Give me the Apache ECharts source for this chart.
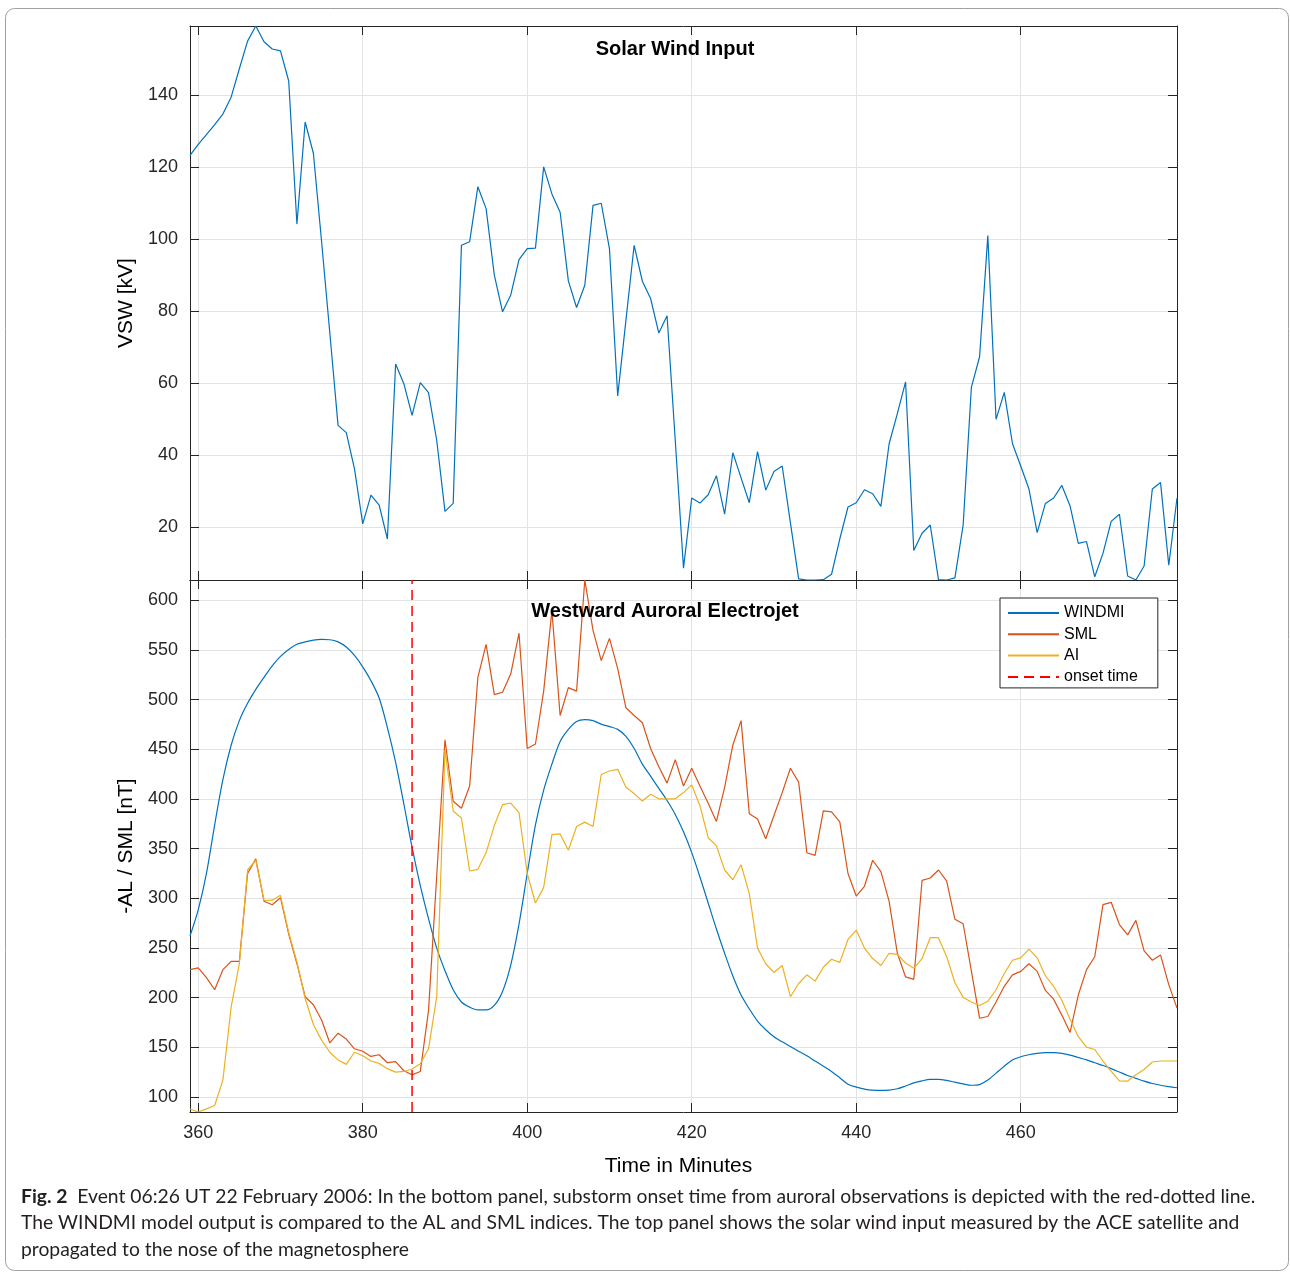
<!DOCTYPE html>
<html>
<head>
<meta charset="utf-8">
<title>Fig. 2 Solar wind input and westward auroral electrojet</title>
<script src="https://cdn.jsdelivr.net/npm/echarts@6/dist/echarts.min.js"></script>
<style>
    html, body { margin: 0; padding: 0; background: #fff; }
    #main { width: 1290px; height: 1272px; }
</style>
</head>
<body>
<div id="main"></div>
<script>
// first sample minute, one sample per minute after that
var startMinute = 359;
var onsetTime = 386;

var minuteTicks = [360, 380, 400, 420, 440, 460];
var vswTicks = [20, 40, 60, 80, 100, 120, 140];
var alTicks = [100, 150, 200, 250, 300, 350, 400, 450, 500, 550, 600];

// top panel, solar wind driver VSW [kV]
var vsw = [
    123.3, 126.4, 129.1, 131.9, 134.8, 139.5, 147.4, 155.1, 159.3, 154.9,
    152.9, 152.4, 144.0, 104.2, 132.6, 123.9, 99.3, 73.9, 48.2, 46.2,
    36.1, 20.8, 28.8, 26.0, 16.6, 65.3, 59.8, 51.0, 60.1, 57.3,
    44.0, 24.3, 26.5, 98.3, 99.3, 114.6, 108.5, 90.0, 79.8, 84.5,
    94.3, 97.4, 97.5, 120.1, 112.6, 107.5, 88.4, 81.0, 87.2, 109.4,
    110.0, 97.3, 56.4, 77.4, 98.3, 88.3, 83.5, 73.9, 78.7, 44.0,
    8.5, 28.0, 26.6, 28.9, 34.2, 23.5, 40.6, 33.6, 26.7, 40.9,
    30.2, 35.4, 36.9, 21.1, 5.5, 5.2, 5.2, 5.3, 6.8, 16.6,
    25.5, 26.7, 30.3, 29.2, 25.7, 43.1, 51.5, 60.3, 13.4, 18.2,
    20.5, 5.3, 5.2, 5.8, 20.5, 58.8, 67.3, 101.0, 49.9, 57.4,
    43.1, 36.9, 30.5, 18.4, 26.5, 28.0, 31.5, 25.8, 15.4, 15.9,
    6.1, 12.6, 21.5, 23.5, 6.3, 5.2, 9.1, 30.5, 32.3, 9.3,
    28.0
];

// bottom panel, -AL / SML [nT]
var windmi = [
    262.1, 288.3, 325.0, 374.0, 419.4, 454.0, 478.8, 496.2, 510.2, 522.4,
    534.0, 543.4, 550.4, 555.6, 558.0, 559.8, 560.5, 560.2, 558.0, 552.8,
    544.4, 532.9, 519.0, 501.5, 471.8, 436.8, 394.9, 351.2, 312.8, 279.6,
    249.9, 227.2, 208.0, 195.7, 190.5, 187.7, 187.7, 192.2, 206.2, 233.0,
    274.0, 325.0, 374.0, 408.9, 435.0, 457.8, 470.0, 478.0, 479.8, 478.8,
    475.3, 472.8, 470.0, 463.0, 450.8, 435.0, 422.9, 410.6, 398.4, 384.4,
    366.9, 346.0, 321.5, 295.3, 269.1, 244.7, 221.9, 202.7, 188.8, 176.5,
    167.8, 160.8, 155.6, 151.0, 146.1, 141.6, 136.3, 131.1, 125.8, 119.5,
    113.0, 110.1, 108.1, 107.0, 106.7, 107.0, 108.4, 111.2, 114.3, 116.4,
    117.8, 117.8, 116.8, 115.0, 113.3, 111.9, 112.6, 117.1, 124.1, 131.1,
    137.4, 140.6, 142.6, 144.0, 144.7, 144.7, 144.0, 142.3, 139.8, 137.4,
    134.6, 131.8, 128.7, 125.2, 121.7, 118.9, 116.1, 113.7, 111.9, 110.5,
    109.4
];

var sml = [
    228.2, 230.0, 220.2, 208.0, 228.2, 236.6, 236.6, 325.0, 339.7, 297.0,
    293.6, 300.6, 263.9, 234.2, 201.0, 192.9, 177.6, 154.5, 164.3, 158.4,
    148.6, 146.1, 140.9, 142.6, 134.6, 135.6, 126.5, 122.4, 125.8, 187.0,
    323.3, 459.5, 397.7, 390.7, 413.0, 522.4, 555.6, 505.0, 507.4, 525.9,
    566.8, 450.8, 455.3, 508.5, 589.5, 484.0, 512.0, 508.5, 620.3, 569.6,
    539.2, 561.6, 531.2, 491.7, 484.0, 476.7, 450.8, 432.3, 415.9, 439.6,
    413.0, 430.9, 413.0, 395.6, 377.4, 411.7, 454.3, 478.8, 385.1, 379.9,
    360.0, 383.4, 406.4, 430.9, 416.9, 345.9, 343.2, 387.9, 386.9, 377.0,
    325.0, 302.3, 312.1, 338.3, 326.8, 297.0, 244.7, 220.9, 218.5, 318.0,
    320.5, 328.5, 317.3, 278.9, 274.4, 226.8, 179.3, 181.1, 195.7, 211.5,
    223.0, 226.5, 234.2, 226.5, 207.3, 198.5, 182.5, 165.0, 202.7, 228.2,
    241.2, 293.6, 296.0, 273.6, 263.2, 277.8, 247.1, 237.7, 242.9, 213.2,
    189.5
];

var ai = [
    88.0, 85.0, 88.1, 91.6, 117.1, 190.5, 234.2, 328.5, 338.3, 297.8,
    298.1, 303.0, 265.6, 235.9, 199.2, 173.0, 157.3, 145.1, 137.4, 132.9,
    145.1, 141.6, 136.3, 133.9, 128.6, 125.1, 125.8, 128.3, 133.5, 148.6,
    201.0, 449.1, 387.9, 380.9, 327.5, 329.2, 346.0, 373.2, 394.2, 395.9,
    386.2, 325.0, 295.3, 311.0, 364.1, 364.8, 348.4, 372.2, 376.7, 372.2,
    424.6, 428.1, 429.8, 411.7, 405.4, 398.0, 404.7, 400.1, 400.1, 400.1,
    406.4, 414.1, 393.2, 361.0, 353.0, 328.5, 318.7, 333.8, 304.8, 249.9,
    234.2, 225.4, 232.4, 201.0, 214.3, 223.0, 216.7, 230.7, 238.7, 235.5,
    258.6, 268.1, 249.9, 239.4, 232.4, 244.7, 243.6, 234.9, 229.6, 239.4,
    260.4, 260.4, 241.2, 215.0, 200.3, 195.7, 192.2, 196.4, 208.0, 224.4,
    237.7, 240.1, 248.9, 240.1, 222.1, 211.5, 197.5, 178.3, 160.8, 150.3,
    147.9, 136.3, 125.8, 116.4, 116.1, 122.4, 127.7, 135.3, 136.3, 136.3,
    136.3
];

var timeRange = [359, 479];
var vswRange = [5.2, 159.3];
var alRange = [85, 620.3];

function pairs(values) {
    var out = [];
    for (var i = 0; i < values.length; i++) {
        out.push([startMinute + i, values[i]]);
    }
    return out;
}

var axisColor = '#262626';
var gridColor = '#e3e3e3';
var font = 'Liberation Sans, Arial, sans-serif';
var captionFont = '19.3px Lato, sans-serif';

function xAxis(gridIndex, position, labels, grid) {
    return {
        type: 'value',
        gridIndex: gridIndex,
        position: position,
        min: timeRange[0],
        max: timeRange[1],
        axisLine: {show: true, onZero: false, lineStyle: {color: axisColor, width: 1}},
        axisTick: {show: true, inside: true, length: 9, customValues: minuteTicks, lineStyle: {color: axisColor}},
        axisLabel: {show: labels, customValues: minuteTicks, margin: 12, color: axisColor, fontSize: 18, fontFamily: font},
        splitLine: {show: grid, lineStyle: {color: gridColor, width: 1}}
    };
}

function yAxis(gridIndex, position, range, ticks, labels, name) {
    return {
        type: 'value',
        gridIndex: gridIndex,
        position: position,
        min: range[0],
        max: range[1],
        name: name,
        nameLocation: 'middle',
        nameGap: 49,
        nameTextStyle: {color: '#000', fontSize: 21, fontFamily: font},
        axisLine: {show: true, onZero: false, lineStyle: {color: axisColor, width: 1}},
        axisTick: {show: true, inside: true, length: 9, customValues: ticks, lineStyle: {color: axisColor}},
        axisLabel: {show: labels, customValues: ticks, margin: 12, color: axisColor, fontSize: 18, fontFamily: font},
        splitLine: {show: labels, lineStyle: {color: gridColor, width: 1}}
    };
}

var chart = echarts.init(document.getElementById('main'));

var bottomX = xAxis(1, 'bottom', true, true);
bottomX.name = 'Time in Minutes';
bottomX.nameLocation = 'middle';
bottomX.nameGap = 44;
bottomX.nameTextStyle = {color: '#000', fontSize: 21, fontFamily: font, padding: [0, 10, 0, 0]};

var option = {
    animation: false,
    backgroundColor: '#fff',
    grid: [
        {left: 190, top: 26, width: 987, height: 554},
        {left: 190, top: 580, width: 987, height: 532}
    ],
    xAxis: [
        xAxis(0, 'bottom', false, true),
        xAxis(0, 'top', false, false),
        bottomX,
        xAxis(1, 'top', false, false)
    ],
    yAxis: [
        yAxis(0, 'left', vswRange, vswTicks, true, 'VSW [kV]'),
        yAxis(0, 'right', vswRange, vswTicks, false, ''),
        yAxis(1, 'left', alRange, alTicks, true, '-AL / SML [nT]'),
        yAxis(1, 'right', alRange, alTicks, false, '')
    ],
    legend: {
        data: ['WINDMI', 'SML', 'AI', 'onset time'],
        orient: 'vertical',
        left: 1000,
        top: 598,
        padding: [7, 20, 3, 7],
        itemWidth: 51,
        itemHeight: 14,
        itemGap: 5.3,
        backgroundColor: '#fff',
        borderColor: axisColor,
        borderWidth: 1,
        borderRadius: 0,
        // line only, no marker dot
        itemStyle: {opacity: 0},
        textStyle: {color: '#000', fontSize: 16, fontFamily: font}
    },
    graphic: [
        {
            type: 'rect',
            shape: {x: 5.5, y: 8.5, width: 1283, height: 1262, r: 9},
            style: {fill: 'none', stroke: '#a0a0a0', lineWidth: 1},
            silent: true
        },
        {
            type: 'text', x: 675, y: 49, z: 10,
            style: {text: 'Solar Wind Input', align: 'center', verticalAlign: 'middle',
                font: 'bold 20px Liberation Sans, Arial, sans-serif', fill: '#000'}
        },
        {
            type: 'text', x: 665, y: 611, z: 10,
            style: {text: 'Westward Auroral Electrojet', align: 'center', verticalAlign: 'middle',
                font: 'bold 20px Liberation Sans, Arial, sans-serif', fill: '#000'}
        },
        {
            type: 'text', x: 21, y: 1197,
            style: {
                text: '{b|Fig. 2}  Event 06:26 UT 22 February 2006: In the bottom panel, substorm onset time from auroral observations is depicted with the red-dotted line.',
                verticalAlign: 'middle',
                font: captionFont, fill: '#231f20',
                rich: {b: {font: 'bold 19.3px Lato, sans-serif', fill: '#231f20'}}
            }
        },
        {
            type: 'text', x: 21, y: 1223,
            style: {
                text: 'The WINDMI model output is compared to the AL and SML indices. The top panel shows the solar wind input measured by the ACE satellite and',
                verticalAlign: 'middle', font: captionFont, fill: '#231f20'
            }
        },
        {
            type: 'text', x: 21, y: 1250,
            style: {
                text: 'propagated to the nose of the magnetosphere',
                verticalAlign: 'middle', font: captionFont, fill: '#231f20'
            }
        }
    ],
    series: [
        {
            name: 'VSW', type: 'line', xAxisIndex: 0, yAxisIndex: 0,
            data: pairs(vsw), symbol: 'none', color: '#0072BD',
            lineStyle: {color: '#0072BD', width: 1.2}
        },
        {
            name: 'WINDMI', type: 'line', xAxisIndex: 2, yAxisIndex: 2,
            data: pairs(windmi), symbol: 'none', smooth: 0.3, color: '#0072BD',
            lineStyle: {color: '#0072BD', width: 1.2}
        },
        {
            name: 'SML', type: 'line', xAxisIndex: 2, yAxisIndex: 2,
            data: pairs(sml), symbol: 'none', color: '#D95319',
            lineStyle: {color: '#D95319', width: 1.2}
        },
        {
            name: 'AI', type: 'line', xAxisIndex: 2, yAxisIndex: 2,
            data: pairs(ai), symbol: 'none', color: '#EDB120',
            lineStyle: {color: '#EDB120', width: 1.2}
        },
        {
            name: 'onset time', type: 'line', xAxisIndex: 2, yAxisIndex: 2,
            data: [[onsetTime, alRange[0]], [onsetTime, alRange[1]]],
            symbol: 'none', color: '#FF0000',
            lineStyle: {color: '#FF0000', width: 1.5, type: [10, 6]}
        }
    ]
};

chart.setOption(option);
</script>
</body>
</html>
